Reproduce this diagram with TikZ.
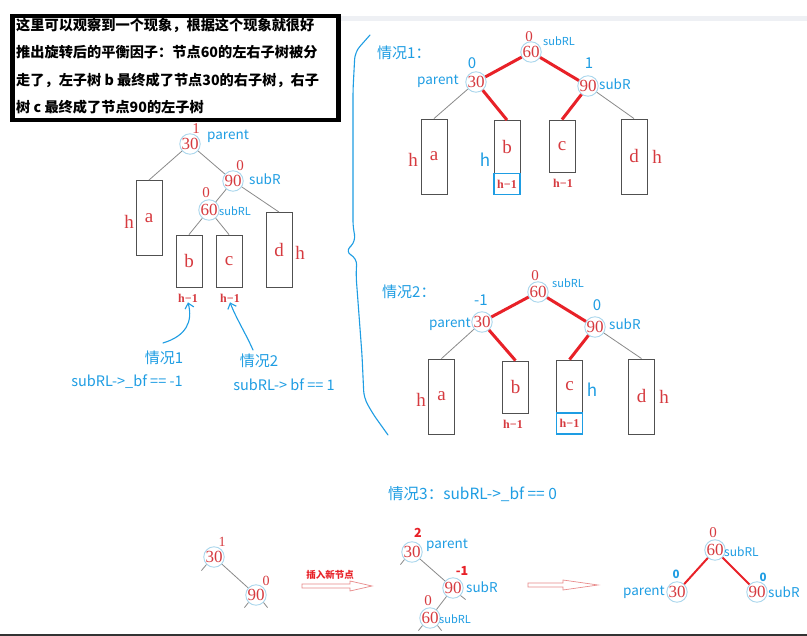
\documentclass[tikz,border=0pt]{standalone}
\usepackage{fontspec}
\setmainfont{Liberation Serif}
\newfontfamily\cjk{Noto Sans CJK SC}
\usetikzlibrary{arrows.meta,positioning}

\definecolor{numred}{HTML}{D63A3F}
\definecolor{lblue}{HTML}{1E9DE3}
\definecolor{ringblue}{HTML}{A9D6EC}
\definecolor{edgegray}{HTML}{8A8A8A}
\definecolor{hotred}{HTML}{E82128}
\definecolor{boxgray}{HTML}{505050}
\definecolor{pinkline}{HTML}{E88A8A}
\definecolor{bandgray}{HTML}{EEF0F4}

\begin{document}
\begin{tikzpicture}[x=1pt,y=-1pt,
    key/.style={circle, draw=ringblue, line width=0.9pt, minimum size=19.5pt, inner sep=0pt,
        text=numred, font=\fontsize{17}{17}\selectfont},
    sub/.style={draw=boxgray, line width=0.9pt, minimum width=26pt, inner sep=0pt,
        text=numred, font=\fontsize{19}{19}\selectfont},
    tag/.style={text=lblue, font=\cjk\fontsize{13.5}{13.5}\selectfont, inner sep=0pt},
    smalltag/.style={text=lblue, font=\cjk\fontsize{11}{11}\selectfont, inner sep=0pt},
    bf/.style={text=numred, font=\fontsize{15}{15}\selectfont, inner sep=0pt},
    bfblue/.style={text=lblue, font=\cjk\fontsize{15}{15}\selectfont, inner sep=0pt},
    hgt/.style={text=numred, font=\fontsize{19}{19}\selectfont, inner sep=0pt},
    hgtblue/.style={text=lblue, font=\cjk\fontsize{17}{17}\selectfont, inner sep=0pt},
    hone/.style={text=numred, font=\bfseries\fontsize{12}{12}\selectfont, inner sep=0pt},
    hbox/.style={draw=lblue, line width=1.3pt, minimum width=26pt, minimum height=21pt, inner sep=0pt,
        text=numred, font=\bfseries\fontsize{12}{12}\selectfont},
    case/.style={text=lblue, font=\cjk\fontsize{15}{15}\selectfont, inner sep=0pt},
    cond/.style={text=lblue, font=\cjk\fontsize{14.5}{14.5}\selectfont, inner sep=0pt},
    edge/.style={draw=edgegray, line width=0.8pt},
    hot/.style={draw=hotred, line width=3pt},
    hand/.style={draw=lblue, line width=1.1pt, line cap=round, line join=round}
]
\fill[white] (0,0) rectangle (807,636);
\useasboundingbox (0,0) rectangle (807,636);
\fill[bandgray] (336,16) rectangle (807,21);
\fill[black!80] (0,634) rectangle (807,636);

% note box
\node[draw=black, line width=4.5pt, minimum width=326pt, minimum height=104pt, anchor=north west] (notebox) at (10,14) {};
\node[anchor=north west, align=left, inner sep=0pt,
      font=\cjk\bfseries\fontsize{14.2}{27.3}\selectfont] (note) at (16,18)
      {这里可以观察到一个现象，根据这个现象就很好\\推出旋转后的平衡因子：节点60的左右子树被分\\走了，左子树 b 最终成了节点30的右子树，右子\\树 c 最终成了节点90的左子树};

% left tree
\node[key] (l30) at (190,144) {30};
\node[key] (l90) at (233,181) {90};
\node[key] (l60) at (209,210) {60};
\node[bf] (l30bf) at (196,129) {1};
\node[bf] (l90bf) at (240,166) {0};
\node[bf] (l60bf) at (206,193) {0};
\node[tag, anchor=west] (l30tag) at (207,136) {parent};
\node[tag, anchor=west] (l90tag) at (249,179) {subR};
\node[smalltag, anchor=west] (l60tag) at (219,211) {subRL};
\node[sub, minimum height=75pt] (la) at (149,218) {a};
\node[sub, minimum height=52pt] (lb) at (189,261) {b};
\node[sub, minimum height=52pt] (lc) at (229,261) {c};
\node[sub, minimum height=75pt] (ld) at (279,250) {d};
\node[hgt] (lah) at (129,222) {h};
\node[hgt] (ldh) at (300,253) {h};
\node[hone] (lbh) at (188,298) {h−1};
\node[hone] (lch) at (230,298) {h−1};
\draw[edge] (l30) -- (la.north);
\draw[edge] (l30) -- (l90);
\draw[edge] (l90) -- (l60);
\draw[edge] (l90) -- (ld.north);
\draw[edge] (l60) -- (lb.north);
\draw[edge] (l60) -- (lc.north);

% hand arrows
\node[case] (lcase1) at (164,358) {情况1};
\node[case] (lcase2) at (259,361) {情况2};
\node[cond] (lcond1) at (127,382) {subRL->\_bf == -1};
\node[cond] (lcond2) at (284,385) {subRL-> bf == 1};
\coordinate (lhand1) at (163,343);
\coordinate (lhand2) at (253,350);
\draw[hand, -{Straight Barb[length=5pt,width=9pt]}] (lhand1) .. controls (186,336) and (193,322) .. (lbh.south);
\draw[hand, -{Straight Barb[length=5pt,width=9pt]}] (lhand2) .. controls (246,334) and (236,318) .. (lch.south);

% brace
\draw[hand, rounded corners=7pt] (370,35) -- (355,52) -- (353,90) -- (353,228) -- (356,241)
    -- (345,252) -- (357,258) -- (356,275) -- (362,355) -- (364,398) -- (373,414) -- (388,435);

% case 1
\node[case, anchor=west] (c1case) at (377,53) {情况1：};
\node[key] (c160) at (531,52) {60};
\node[key] (c130) at (476,82) {30};
\node[key] (c190) at (588,86) {90};
\node[bf] (c160bf) at (529,37) {0};
\node[bfblue] (c130bf) at (472,63) {0};
\node[bfblue] (c190bf) at (589,63) {1};
\node[smalltag, anchor=west] (c160tag) at (543,41) {subRL};
\node[tag, anchor=east] (c130tag) at (459,81) {parent};
\node[tag, anchor=west] (c190tag) at (599,84) {subR};
\node[sub, minimum height=75pt] (c1a) at (434,156.5) {a};
\node[sub, minimum height=53pt] (c1b) at (507,147) {b};
\node[hbox] (c1bh) at (507,184) {h−1};
\node[sub, minimum height=52pt] (c1c) at (562,146) {c};
\node[sub, minimum height=75pt] (c1d) at (634,156.5) {d};
\node[hgt] (c1ah) at (413,160) {h};
\node[hgtblue] (c1bhl) at (485,160) {h};
\node[hone] (c1ch) at (563,183) {h−1};
\node[hgt] (c1dh) at (657,157) {h};
\draw[edge] (c130) -- (c1a.north);
\draw[edge] (c190) -- (c1d.north);
\draw[hot] (c160) -- (c130);
\draw[hot] (c160) -- (c190);
\draw[hot] (c130) -- (c1b.north);
\draw[hot] (c190) -- (c1c.north);

% case 2
\node[case, anchor=west] (c2case) at (382,292) {情况2：};
\node[key] (c260) at (538,292) {60};
\node[key] (c230) at (482,322) {30};
\node[key] (c290) at (595,327) {90};
\node[bf] (c260bf) at (535,276) {0};
\node[bfblue] (c230bf) at (481,300) {-1};
\node[bfblue] (c290bf) at (597,305) {0};
\node[smalltag, anchor=west] (c260tag) at (552,283) {subRL};
\node[tag, anchor=east] (c230tag) at (471,324) {parent};
\node[tag, anchor=west] (c290tag) at (609,324) {subR};
\node[sub, minimum height=75pt] (c2a) at (441.5,396.5) {a};
\node[sub, minimum height=52pt] (c2b) at (515.5,387) {b};
\node[sub, minimum height=53pt] (c2c) at (569.5,386.5) {c};
\node[hbox] (c2ch) at (569.5,423.5) {h−1};
\node[sub, minimum height=75pt] (c2d) at (641.5,396.5) {d};
\node[hgt] (c2ah) at (421,400) {h};
\node[hone] (c2bh) at (513,424) {h−1};
\node[hgtblue] (c2chl) at (592,390) {h};
\node[hgt] (c2dh) at (664,397) {h};
\draw[edge] (c230) -- (c2a.north);
\draw[edge] (c290) -- (c2d.north);
\draw[hot] (c260) -- (c230);
\draw[hot] (c260) -- (c290);
\draw[hot] (c230) -- (c2b.north);
\draw[hot] (c290) -- (c2c.north);

% case 3
\node[case, anchor=west, font=\cjk\fontsize{15.5}{15.5}\selectfont] (c3case) at (388,494) {情况3：subRL->\_bf == 0};

\node[key] (a30) at (214,557) {30};
\node[key] (a90) at (256,595) {90};
\node[bf, font=\fontsize{14}{14}\selectfont] (a30bf) at (222,542) {1};
\node[bf, font=\fontsize{14}{14}\selectfont] (a90bf) at (266,581) {0};
\draw[edge] (a30) -- (a90);
\draw[edge] (a30.south west) -- ++(-5,6);
\draw[edge] (a90.south west) -- ++(-4,5);
\draw[edge] (a90.south east) -- ++(4,5);

\node[text=hotred, font=\cjk\bfseries\fontsize{9.5}{9.5}\selectfont, inner sep=0pt] (ins) at (330,575) {插入新节点};
\draw[draw=pinkline, line width=0.7pt, fill=white] (302,584) -- (350,584) -- (350,581) -- (372,586)
    -- (350,591) -- (350,588) -- (302,588) -- cycle;

\node[key] (b30) at (412,552) {30};
\node[key] (b90) at (453,588) {90};
\node[key] (b60) at (430,618) {60};
\node[text=hotred, font=\cjk\bfseries\fontsize{12.5}{12.5}\selectfont, inner sep=0pt] (b30bf) at (418,533) {2};
\node[text=hotred, font=\cjk\bfseries\fontsize{12.5}{12.5}\selectfont, inner sep=0pt] (b90bf) at (462,571) {-1};
\node[bf] (b60bf) at (428,601) {0};
\node[tag, anchor=west] (b30tag) at (426,545) {parent};
\node[tag, anchor=west] (b90tag) at (466,587) {subR};
\node[smalltag, anchor=west] (b60tag) at (439,619) {subRL};
\draw[edge] (b30) -- (b90);
\draw[edge] (b90) -- (b60);
\draw[edge] (b30.south west) -- ++(-4,5);
\draw[edge] (b90.south east) -- ++(5,4);
\draw[edge] (b60.south west) -- ++(-4,5);
\draw[edge] (b60.south east) -- ++(4,5);

\draw[draw=pinkline, line width=0.7pt, fill=white] (528,583) -- (563,583) -- (563,580) -- (598,585)
    -- (563,590) -- (563,587) -- (528,587) -- cycle;

\node[key] (r60) at (715,550) {60};
\node[key] (r30) at (677,592) {30};
\node[key] (r90) at (757,592) {90};
\node[bf] (r60bf) at (713,533) {0};
\node[text=lblue, font=\cjk\bfseries\fontsize{11.5}{11.5}\selectfont, inner sep=0pt] (r30bf) at (676,574) {0};
\node[text=lblue, font=\cjk\bfseries\fontsize{11.5}{11.5}\selectfont, inner sep=0pt] (r90bf) at (763,577) {0};
\node[smalltag, anchor=west, font=\cjk\fontsize{12}{12}\selectfont] (r60tag) at (724,552) {subRL};
\node[tag, anchor=east] (r30tag) at (665,592) {parent};
\node[tag, anchor=west] (r90tag) at (768,592) {subR};
\draw[hotred, line width=2pt] (r60) -- (r30);
\draw[hotred, line width=2pt] (r60) -- (r90);
\end{tikzpicture}
\end{document}
